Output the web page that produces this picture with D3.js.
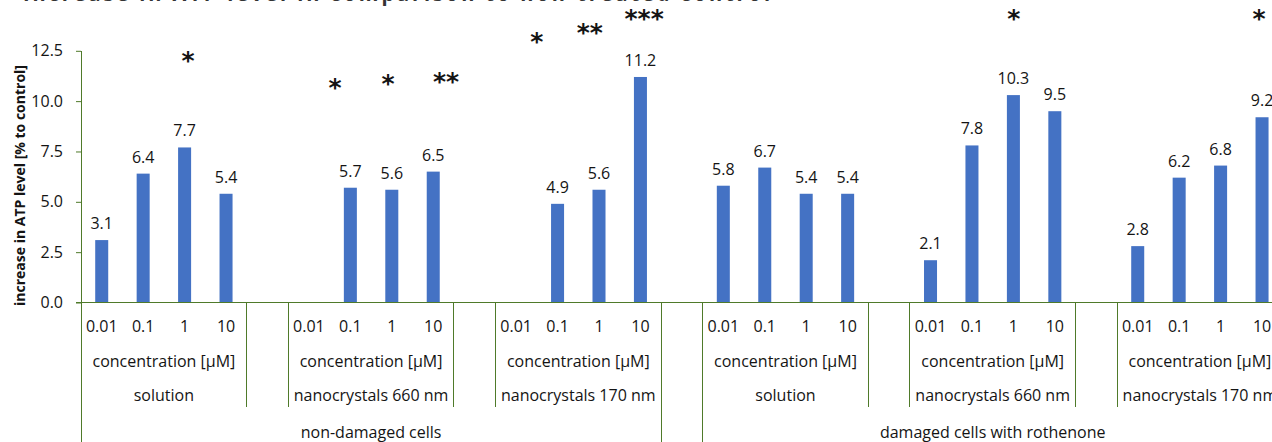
<!DOCTYPE html>
<html>
<head>
<meta charset="utf-8">
<script src="https://cdn.jsdelivr.net/npm/d3@7"></script>
<style>
  body { margin: 0; background: #fff; }
  svg { display: block; font-family: "Open Sans", sans-serif; }
</style>
</head>
<body>
<svg width="1272" height="442"></svg>
<script>
// Texts
var chartTitle = "Increase in ATP level in comparison to non-treated control";
var yTitle = "increase in ATP level [% to control]";
var unitLabel = "concentration [\u00b5M]";

// Category levels
var concentrations = ["0.01", "0.1", "1", "10"];
var formulations = ["solution", "nanocrystals 660 nm", "nanocrystals 170 nm"];
var cellStates = ["non-damaged cells", "damaged cells with rothenone"];
var yTicks = [0, 2.5, 5, 7.5, 10, 12.5];

// ATP increase per concentration (null = no bar)
var nonDamagedSolution = [3.1, 6.4, 7.7, 5.4];
var nonDamagedNano660 = [null, 5.7, 5.6, 6.5];
var nonDamagedNano170 = [null, 4.9, 5.6, 11.2];
var damagedSolution = [5.8, 6.7, 5.4, 5.4];
var damagedNano660 = [2.1, 7.8, 10.3, 9.5];
var damagedNano170 = [2.8, 6.2, 6.8, 9.2];

// Significance marks: text, slot along category axis, height in % units
var starMarks = ["*", "*", "*", "**", "*", "**", "***", "*", "*"];
var starSlots = [2.58, 6.13, 7.41, 8.81, 11.0, 12.28, 13.59, 22.51, 28.43];
var starLevels = [12.25, 10.95, 11.1, 11.2, 13.2, 13.65, 14.35, 14.35, 14.35];

var svg = d3.select("svg");
var axisColor = "#4f7a2a",
  textColor = "#141414",
  barColor = "#4472c4";

// Each formulation gets 4 slots plus one empty slot as a gap
var groups = [];
cellStates.forEach(function (cell, c) {
  formulations.forEach(function (f) {
    groups.push({ cell: c, name: f });
  });
});
var seriesList = [nonDamagedSolution, nonDamagedNano660, nonDamagedNano170,
  damagedSolution, damagedNano660, damagedNano170];
var perGroup = concentrations.length + 1;
var nSlots = seriesList.length * perGroup - 1;
var perCell = formulations.length * perGroup;

var bars = [];
seriesList.forEach(function (vals, g) {
  vals.forEach(function (v, i) {
    bars.push({ slot: g * perGroup + i, value: v, conc: concentrations[i] });
  });
});

var left = 81, right = 81 + 41.44 * nSlots;
var plotTop = 50.8, plotBottom = 302.5, svgH = 442;

var x = d3.scaleBand()
  .domain(d3.range(nSlots))
  .range([left, right])
  .paddingInner(0.686)
  .paddingOuter(0.343);
var slotX = d3.scaleLinear().domain([0, nSlots]).range([left, right]);
var y = d3.scaleLinear().domain([0, 12.5]).range([plotBottom, plotTop]);

// Title (mostly cut off at the top edge)
svg.append("text")
  .attr("x", 23)
  .attr("y", 0.5)
  .attr("textLength", 747)
  .attr("font-size", 20)
  .attr("font-weight", "bold")
  .attr("fill", "#333")
  .text(chartTitle);

// Y axis
var yAxis = svg.append("g")
  .attr("transform", "translate(" + left + ",0)")
  .call(d3.axisLeft(y).tickValues(yTicks).tickFormat(d3.format(".1f"))
    .tickSize(5).tickPadding(13));
yAxis.select(".domain").remove();
yAxis.selectAll("line").attr("stroke", axisColor);
yAxis.selectAll("text")
  .attr("font-size", 16)
  .attr("font-family", "Open Sans")
  .attr("fill", textColor);

svg.append("text")
  .attr("transform", "translate(24.5," + 185.5 + ") rotate(-90)")
  .attr("text-anchor", "middle")
  .attr("font-size", 14)
  .attr("font-weight", "bold")
  .attr("fill", textColor)
  .text(yTitle);

// Bars
var shown = bars.filter(function (d) { return d.value !== null; });
svg.selectAll(".bar")
  .data(shown)
  .enter()
  .append("rect")
  .attr("class", "bar")
  .attr("x", function (d) { return x(d.slot); })
  .attr("y", function (d) { return y(d.value); })
  .attr("width", x.bandwidth())
  .attr("height", function (d) { return y(0) - y(d.value); })
  .attr("fill", barColor);

// Value labels
svg.selectAll(".val")
  .data(shown)
  .enter()
  .append("text")
  .attr("class", "val")
  .attr("x", function (d) { return x(d.slot) + x.bandwidth() / 2; })
  .attr("y", function (d) { return y(d.value) - 11; })
  .attr("text-anchor", "middle")
  .attr("font-size", 16)
  .attr("fill", textColor)
  .text(function (d) { return d.value.toFixed(1); });

// Significance stars
svg.selectAll(".star")
  .data(starMarks)
  .enter()
  .append("text")
  .attr("class", "star")
  .attr("x", function (d, i) { return slotX(starSlots[i]); })
  .attr("y", function (d, i) { return y(starLevels[i]); })
  .attr("dy", "0.54em")
  .attr("text-anchor", "middle")
  .attr("font-family", "DejaVu Sans")
  .attr("font-weight", "bold")
  .attr("font-size", 25)
  .attr("fill", textColor)
  .text(function (d) { return d; });

// Category axis line
var lines = svg.append("g")
  .attr("stroke", axisColor)
  .attr("stroke-width", 1)
  .attr("shape-rendering", "crispEdges");
lines.append("line")
  .attr("x1", left - 5).attr("x2", 1272)
  .attr("y1", y(0)).attr("y2", y(0));
lines.append("line")
  .attr("x1", left).attr("x2", left)
  .attr("y1", y(12.5)).attr("y2", svgH);

// Group separators (formulation level)
groups.forEach(function (g, gi) {
  [gi * perGroup, gi * perGroup + concentrations.length].forEach(function (s) {
    lines.append("line")
      .attr("x1", slotX(s)).attr("x2", slotX(s))
      .attr("y1", y(0)).attr("y2", 407);
  });
});
// Cell level separators
cellStates.forEach(function (c, ci) {
  [ci * perCell, ci * perCell + perCell - 1].forEach(function (s) {
    lines.append("line")
      .attr("x1", slotX(s)).attr("x2", slotX(s))
      .attr("y1", y(0)).attr("y2", svgH);
  });
});

// Category labels
var labels = svg.append("g")
  .attr("text-anchor", "middle")
  .attr("font-size", 16)
  .attr("fill", textColor);

labels.selectAll(".conc")
  .data(bars)
  .enter()
  .append("text")
  .attr("x", function (d) { return x(d.slot) + x.bandwidth() / 2; })
  .attr("y", 332)
  .text(function (d) { return d.conc; });

groups.forEach(function (g, gi) {
  var mid = slotX(gi * perGroup + concentrations.length / 2);
  labels.append("text").attr("x", mid).attr("y", 367).text(unitLabel);
  labels.append("text").attr("x", mid).attr("y", 401).text(g.name);
});

cellStates.forEach(function (c, ci) {
  var mid = slotX(ci * perCell + (perCell - 1) / 2);
  labels.append("text").attr("x", mid).attr("y", 437.5).text(c);
});
</script>
</body>
</html>
